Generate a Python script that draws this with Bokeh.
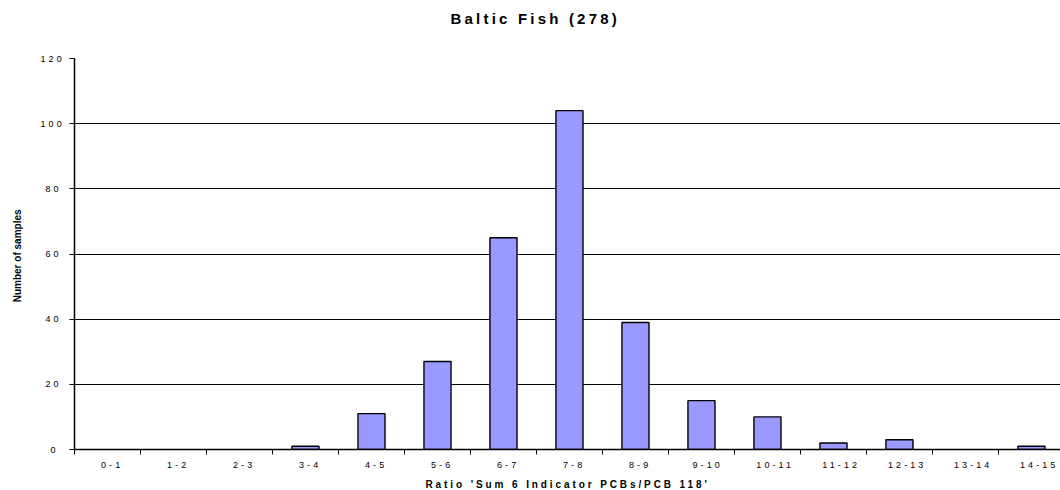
import math
from bokeh.plotting import figure
from bokeh.layouts import row, column
from bokeh.models import FixedTicker, Range1d, InlineStyleSheet, Label
from bokeh.embed import file_html
from bokeh.resources import INLINE
from bokeh.core.validation import silence
from bokeh.core.validation.warnings import MISSING_RENDERERS

silence(MISSING_RENDERERS, True)

title_text = "Baltic Fish (278)"
x_title = "Ratio 'Sum 6 Indicator PCBs/PCB 118'"
y_title = "Number of samples"
categories = ["0-1", "1-2", "2-3", "3-4", "4-5", "5-6", "6-7", "7-8", "8-9",
              "9-10", "10-11", "11-12", "12-13", "13-14", "14-15"]
counts = [0, 0, 0, 1, 11, 27, 65, 104, 39, 15, 10, 2, 3, 0, 1]
y_ticks = [0, 20, 40, 60, 80, 100, 120]

FONT = "Liberation Sans"
n = len(categories)
centers = [i + 0.5 for i in range(n)]
bounds = list(range(n + 1))
outline_alpha = [0.0 if c == 0 else 1.0 for c in counts]

W = 1060
TH = 52    # title strip height
BH = 20    # x-axis title strip height
LW = 26    # y-axis title strip width
MH = 490 - TH - BH


def strip(width, height, spacing=None):
    f = figure(width=width, height=height, output_backend="svg",
               toolbar_location=None,
               x_range=Range1d(0, width), y_range=Range1d(0, height),
               x_axis_location=None, y_axis_location=None,
               min_border=0, min_border_left=0, min_border_right=0,
               min_border_top=0, min_border_bottom=0)
    f.outline_line_color = None
    f.xgrid.visible = False
    f.ygrid.visible = False
    f.background_fill_color = "white"
    f.border_fill_color = "white"
    if spacing is not None:
        f.stylesheets = [InlineStyleSheet(css=":host { letter-spacing: %spx; }" % spacing)]
    return f


# --- title strip ---
tfig = strip(W, TH, 3.2)
tfig.add_layout(Label(x=450, y=TH - 17.5, text=title_text,
                      text_align="left", text_baseline="alphabetic",
                      text_font=FONT, text_font_size="15px",
                      text_font_style="bold", text_color="#000000"))

# --- y-axis title strip (no letter spacing) ---
lab = strip(LW, MH)
lab.add_layout(Label(x=17, y=MH - (256 - TH) - 7, text=y_title, angle=math.pi / 2,
                     text_align="center", text_baseline="middle",
                     text_font=FONT, text_font_size="10px",
                     text_font_style="bold", text_color="#000000"))

# --- x-axis title strip ---
xfig = strip(W, BH, 2.9)
xfig.add_layout(Label(x=425, y=6, text=x_title,
                      text_align="left", text_baseline="alphabetic",
                      text_font=FONT, text_font_size="10px",
                      text_font_style="bold", text_color="#000000"))

# --- main chart ---
p = figure(width=W - LW, height=MH, output_backend="svg", toolbar_location=None,
           x_range=Range1d(0, 14.94), y_range=Range1d(0, 120),
           min_border_left=74 - LW, min_border_right=0,
           min_border_top=58 - TH, min_border_bottom=(490 - BH) - 449)
p.stylesheets = [InlineStyleSheet(css=":host { letter-spacing: 3.1px; }")]

p.vbar(x=centers, top=counts, width=0.41, fill_color="#9999FF",
       line_color="#000000", line_width=1.4, line_alpha=outline_alpha)

p.outline_line_color = None
p.background_fill_color = "white"
p.border_fill_color = "white"

p.xgrid.grid_line_color = None
p.ygrid.grid_line_color = "#000000"
p.ygrid.grid_line_width = 1
p.ygrid.ticker = FixedTicker(ticks=y_ticks)

xa = p.xaxis[0]
xa.ticker = FixedTicker(ticks=centers, minor_ticks=bounds)
xa.major_label_overrides = {c: lab_ for c, lab_ in zip(centers, categories)}
xa.major_tick_out = 0
xa.major_tick_in = 0
xa.minor_tick_out = 5
xa.minor_tick_in = 0
xa.minor_tick_line_color = "#000000"
xa.axis_line_color = "#000000"
xa.axis_line_width = 1.5
xa.major_label_text_font = FONT
xa.major_label_text_font_size = "9px"
xa.major_label_text_color = "#000000"
xa.major_label_standoff = 7

ya = p.yaxis[0]
ya.ticker = FixedTicker(ticks=y_ticks)
ya.major_tick_out = 5
ya.major_tick_in = 0
ya.minor_tick_out = 0
ya.minor_tick_in = 0
ya.axis_line_color = "#000000"
ya.axis_line_width = 1.5
ya.major_label_text_font = FONT
ya.major_label_text_font_size = "9px"
ya.major_label_text_color = "#000000"
ya.major_label_standoff = 14

layout = column(tfig, row(lab, p, spacing=0), xfig, spacing=0)
open("out.html", "w").write(file_html(layout, INLINE))
